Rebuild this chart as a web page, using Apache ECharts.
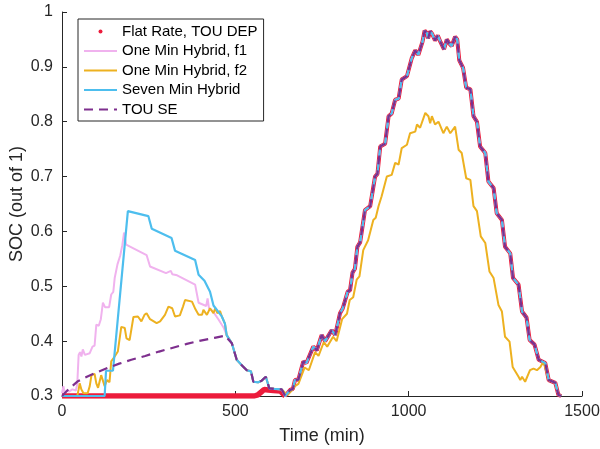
<!DOCTYPE html>
<html>
<head>
<meta charset="utf-8">
<script src="https://cdn.jsdelivr.net/npm/echarts@6/dist/echarts.min.js"></script>
<style>
    html, body { margin: 0; padding: 0; background: #fff; }
    #main { width: 600px; height: 449px; }
</style>
</head>
<body>
<div id="main"></div>
<script>
// [time (min), SOC]
var blueHead = [[0, 0.300], [123, 0.300], [127, 0.346], [147, 0.346], [190, 0.637], [249, 0.628], [259, 0.605],
    [316, 0.588], [326, 0.565], [384, 0.548], [394, 0.521], [411, 0.510], [427, 0.490], [437, 0.465],
    [461, 0.445], [470, 0.432]];

var pinkHead = [[0, 0.305], [4, 0.318], [8, 0.305], [14, 0.310], [20, 0.308], [30, 0.312], [40, 0.310],
    [44, 0.322], [48, 0.375], [52, 0.380], [56, 0.372], [60, 0.385], [66, 0.375], [80, 0.378], [88, 0.390],
    [94, 0.392], [99, 0.430], [106, 0.428], [112, 0.440], [118, 0.470], [124, 0.462], [136, 0.462],
    [142, 0.485], [148, 0.490], [152, 0.515], [160, 0.540], [168, 0.556], [174, 0.575], [179, 0.598],
    [185, 0.576], [244, 0.557], [254, 0.536], [300, 0.524], [314, 0.528], [318, 0.522], [332, 0.520],
    [384, 0.503], [394, 0.470], [416, 0.464], [420, 0.478], [424, 0.460], [437, 0.453], [451, 0.440],
    [466, 0.425]];

var orangeHead = [[0, 0.300], [44, 0.300], [48, 0.312], [51, 0.323], [56, 0.312], [62, 0.305], [74, 0.305],
    [80, 0.318], [85, 0.338], [94, 0.340], [99, 0.323], [104, 0.315], [113, 0.338], [118, 0.336],
    [123, 0.318], [130, 0.329], [137, 0.325], [142, 0.363], [152, 0.372], [161, 0.381], [171, 0.426],
    [181, 0.424], [186, 0.405], [195, 0.402], [206, 0.444], [219, 0.445], [229, 0.436], [238, 0.448],
    [244, 0.451], [254, 0.440], [273, 0.433], [283, 0.436], [297, 0.448], [307, 0.463], [318, 0.460],
    [326, 0.445], [340, 0.447], [349, 0.463], [355, 0.475], [375, 0.472], [385, 0.458], [394, 0.448],
    [404, 0.448], [408, 0.457], [418, 0.448], [427, 0.460], [437, 0.451], [442, 0.460], [448, 0.451],
    [456, 0.455], [461, 0.445], [470, 0.432]];

var purpleHead = [[0, 0.300], [20, 0.313], [46, 0.327], [75, 0.336], [104, 0.344], [135, 0.352], [165, 0.359],
    [200, 0.366], [240, 0.373], [280, 0.381], [320, 0.388], [360, 0.395], [400, 0.401], [440, 0.406],
    [470, 0.410]];

var redHead = [[0, 0.300], [555, 0.300], [565, 0.302], [576, 0.308], [583, 0.312], [595, 0.311], [610, 0.310],
    [630, 0.309], [644, 0.300]];

// shared descent after the hybrids merge
var commonDrop = [[475, 0.411], [490, 0.396], [504, 0.366], [520, 0.355], [533, 0.347], [545, 0.345],
    [552, 0.326], [566, 0.325], [576, 0.328], [588, 0.335], [598, 0.314], [612, 0.313], [634, 0.312]];

var mainPeak = [[644, 0.300], [658, 0.311], [666, 0.313], [672, 0.329], [682, 0.330], [696, 0.363], [705, 0.360],
    [710, 0.357], [725, 0.390], [735, 0.383], [749, 0.411], [759, 0.400], [778, 0.420], [788, 0.411],
    [802, 0.451], [810, 0.460], [817, 0.475], [824, 0.490], [831, 0.493], [838, 0.525], [845, 0.532],
    [852, 0.572], [860, 0.580], [874, 0.639], [889, 0.646], [903, 0.700], [910, 0.705], [918, 0.755],
    [932, 0.760], [942, 0.810], [951, 0.815], [961, 0.840], [971, 0.842], [980, 0.877], [995, 0.883],
    [1009, 0.916], [1019, 0.930], [1028, 0.922], [1040, 0.946], [1046, 0.966], [1052, 0.962], [1056, 0.952],
    [1062, 0.965], [1068, 0.960], [1076, 0.948], [1084, 0.957], [1092, 0.945], [1102, 0.932], [1110, 0.950],
    [1118, 0.942], [1124, 0.938], [1134, 0.955], [1140, 0.950], [1146, 0.912], [1157, 0.898], [1166, 0.862],
    [1178, 0.859], [1187, 0.810], [1197, 0.800], [1206, 0.755], [1221, 0.743], [1230, 0.691], [1245, 0.679],
    [1254, 0.633], [1269, 0.621], [1278, 0.572], [1293, 0.560], [1301, 0.515], [1317, 0.503], [1327, 0.454],
    [1340, 0.443], [1349, 0.402], [1363, 0.394], [1375, 0.366], [1394, 0.360], [1404, 0.329], [1423, 0.324],
    [1432, 0.302], [1440, 0.300]];

var orangePeak = [[650, 0.302], [660, 0.308], [672, 0.318], [682, 0.322], [700, 0.352], [712, 0.347],
    [730, 0.380], [740, 0.373], [755, 0.398], [765, 0.390], [782, 0.408], [792, 0.400], [808, 0.440],
    [822, 0.450], [830, 0.475], [840, 0.480], [850, 0.512], [858, 0.518], [869, 0.566], [883, 0.584],
    [898, 0.621], [905, 0.625], [913, 0.646], [922, 0.664], [937, 0.700], [951, 0.703], [961, 0.725],
    [971, 0.722], [980, 0.752], [995, 0.758], [1004, 0.779], [1019, 0.782], [1024, 0.795], [1033, 0.789],
    [1048, 0.816], [1057, 0.810], [1062, 0.797], [1067, 0.810], [1076, 0.795], [1086, 0.800], [1100, 0.779],
    [1110, 0.791], [1120, 0.779], [1134, 0.791], [1144, 0.749], [1153, 0.743], [1166, 0.697], [1178, 0.694],
    [1187, 0.646], [1197, 0.637], [1208, 0.591], [1221, 0.579], [1233, 0.527], [1245, 0.515], [1259, 0.466],
    [1269, 0.454], [1278, 0.408], [1291, 0.399], [1300, 0.353], [1317, 0.335], [1322, 0.329], [1327, 0.335],
    [1336, 0.326], [1350, 0.347], [1360, 0.350], [1370, 0.347], [1380, 0.353], [1389, 0.363]];

var seriesNames = ['Flat Rate, TOU DEP', 'One Min Hybrid, f1', 'One Min Hybrid, f2', 'Seven Min Hybrid', 'TOU SE'];
var seriesColors = ['#ec1c3c', '#f0b2ee', '#edb120', '#4dbeee', '#7e2f8e'];

var tail = mainPeak.filter(function (p) { return p[0] >= 1394; });

var myChart = echarts.init(document.getElementById('main'));
var font = 'Liberation Sans, Arial, Helvetica, sans-serif';

function lineSeries(i, data, extra) {
    var s = {
        name: seriesNames[i],
        type: 'line',
        data: data,
        symbol: 'none',
        showSymbol: false,
        animation: false,
        emphasis: {disabled: true},
        lineStyle: {color: seriesColors[i], width: 2},
        itemStyle: {color: seriesColors[i]}
    };
    for (var k in extra) s[k] = extra[k];
    return s;
}

var option = {
    backgroundColor: '#fff',
    animation: false,
    grid: {left: 62, right: 18, top: 12, bottom: 53, outerBoundsMode: 'none', containLabel: false},
    legend: {
        orient: 'vertical',
        left: 78,
        top: 19,
        padding: [5, 6, 4, 5],
        backgroundColor: '#fff',
        borderColor: '#262626',
        borderWidth: 1,
        borderRadius: 0,
        itemWidth: 33,
        itemHeight: 5,
        itemGap: 4.5,
        selectedMode: false,
        textStyle: {fontFamily: font, fontSize: 15, lineHeight: 15, color: '#000'},
        data: seriesNames.map(function (n, i) {
            if (i === 0) {
                return {name: n, lineStyle: {opacity: 0}, itemStyle: {borderWidth: 0}};
            }
            return {name: n, itemStyle: {opacity: 0}};
        })
    },
    xAxis: {
        type: 'value',
        min: 0,
        max: 1500,
        interval: 500,
        name: 'Time (min)',
        nameLocation: 'middle',
        nameGap: 31,
        nameMoveOverlap: false,
        nameTextStyle: {fontFamily: font, fontSize: 18, color: '#262626'},
        axisLine: {lineStyle: {color: '#262626', width: 1}},
        axisTick: {inside: true, length: 5, lineStyle: {color: '#262626'}},
        axisLabel: {
            fontFamily: font, fontSize: 16, color: '#262626', margin: 8,
            formatter: function (v) { return String(v); }
        },
        splitLine: {show: false}
    },
    yAxis: {
        type: 'value',
        min: 0.3,
        max: 1,
        interval: 0.1,
        name: 'SOC (out of 1)',
        nameLocation: 'middle',
        nameGap: 36,
        nameMoveOverlap: false,
        nameTextStyle: {fontFamily: font, fontSize: 18, color: '#262626'},
        axisLine: {show: true, lineStyle: {color: '#262626', width: 1}},
        axisTick: {show: true, inside: true, length: 5, lineStyle: {color: '#262626'}},
        axisLabel: {
            fontFamily: font, fontSize: 16, color: '#262626', margin: 9,
            formatter: function (v) { return String(Math.round(v * 10) / 10); }
        },
        splitLine: {show: false}
    },
    series: [
        // flat-rate dots: dense near 0.3, thinner halo along the evening peak
        lineSeries(0, redHead, {
            symbol: 'circle', symbolSize: 4,
            lineStyle: {color: seriesColors[0], width: 5.5}
        }),
        lineSeries(0, mainPeak, {
            symbol: 'circle', symbolSize: 4,
            lineStyle: {color: seriesColors[0], width: 4}
        }),
        lineSeries(1, pinkHead.concat(commonDrop, mainPeak)),
        lineSeries(2, orangeHead.concat(commonDrop, orangePeak, tail)),
        lineSeries(3, blueHead.concat(commonDrop, mainPeak), {
            lineStyle: {color: seriesColors[3], width: 2.2}
        }),
        lineSeries(4, purpleHead.concat(commonDrop, mainPeak), {
            lineStyle: {color: seriesColors[4], width: 2.2, type: [9, 6]}
        })
    ]
};

myChart.setOption(option);
</script>
</body>
</html>
